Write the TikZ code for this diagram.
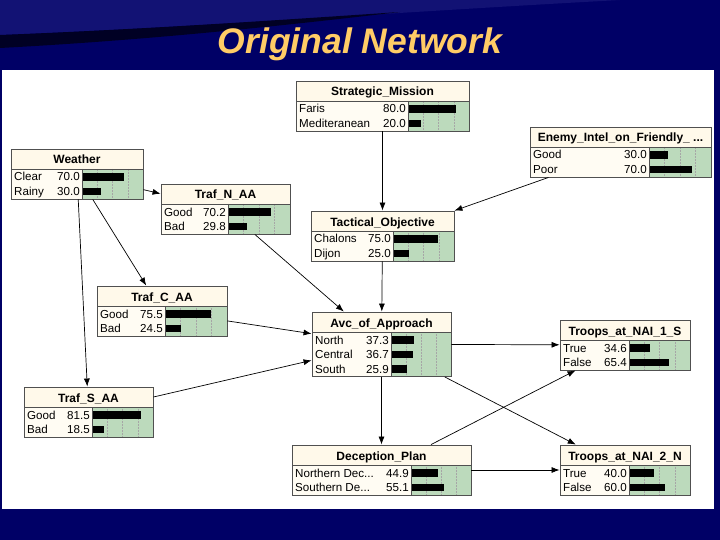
\documentclass[tikz,border=0pt]{standalone}
\usepackage{fontspec}
\setmainfont{Liberation Sans}
\usetikzlibrary{arrows.meta}

\definecolor{slidenavy}{RGB}{0,0,102}
\definecolor{swoopnavy}{RGB}{18,18,116}
\definecolor{titlegold}{RGB}{255,204,102}
\definecolor{headcream}{RGB}{255,249,234}
\definecolor{labelcream}{RGB}{255,252,243}
\definecolor{bargreen}{RGB}{188,218,188}
\definecolor{frameline}{RGB}{80,80,80}

\newcommand{\cutdots}{...}

\tikzset{
  bnframe/.style={draw=frameline,line width=0.9pt,inner sep=0pt,rectangle},
  bnhead/.style={fill=headcream},
  bnlabel/.style={fill=labelcream},
  bnbars/.style={fill=bargreen},
  bngrid/.style={draw=gray!70,densely dotted,line width=0.5pt},
  bnline/.style={draw=frameline,line width=0.9pt},
  bntitle/.style={font=\fontsize{12}{14}\selectfont\bfseries,inner sep=0pt},
  bnstate/.style={font=\fontsize{11.6}{14}\selectfont,inner sep=0pt},
  bnlink/.style={->,line width=0.7pt},
}

% one Netica node: name, left, top, right, divider, title, states, number of states
\newcommand{\bnbox}[8]{%
  \pgfmathsetmacro{\bnh}{#3+20}%
  \pgfmathsetmacro{\bnb}{#3+20+14.5*#8+1}%
  \fill[bnhead] (#2,#3) rectangle (#4,\bnh);
  \fill[bnlabel] (#2,\bnh) rectangle (#5,\bnb);
  \fill[bnbars] (#5,\bnh) rectangle (#4,\bnb);
  \foreach \q in {0.25,0.5,0.75}
    \draw[bngrid] ({#5+\q*(#4-#5)},\bnh) -- ({#5+\q*(#4-#5)},\bnb);
  \foreach \st/\pc [count=\i] in {#7} {
    \pgfmathsetmacro{\ry}{\bnh+12+14.5*(\i-1)}
    \node[bnstate,anchor=base west] at ({#2+3},\ry) {\st};
    \node[bnstate,anchor=base east] at ({#5-2},\ry) {\pc};
    \fill ({#5+1},{\ry-7.8}) rectangle ({#5+1+\pc/100*(#4-#5-2)},{\ry-0.2});
  }
  \draw[bnline] (#2,\bnh) -- (#4,\bnh) (#5,\bnh) -- (#5,\bnb);
  \node[bntitle,anchor=base] at ({(#2+#4)/2},{#3+15}) {#6};
  \node[bnframe,minimum width={(#4-#2)*1pt},minimum height={(\bnb-#3)*1pt}]
    (#1) at ({(#2+#4)/2},{(#3+\bnb)/2}) {};
}

\begin{document}
\begin{tikzpicture}[x=1pt,y=-1pt,>={Latex[length=8pt,width=6pt]}]
  \useasboundingbox (0,0) rectangle (720,540);
  % slide background
  \fill[slidenavy] (0,0) rectangle (720,540);
  \fill[swoopnavy] (0,0) -- (0,35) .. controls (180,28) and (400,12) .. (620,0) -- cycle;
  \fill[black!65!slidenavy] (0,35) .. controls (150,29) and (280,20) .. (400,12)
    .. controls (280,26) and (150,40) .. (0,48) -- cycle;
  \fill[white] (2,70) rectangle (714,509);
  \node[font=\fontsize{35.5}{40}\selectfont\bfseries\itshape,text=titlegold,anchor=base]
    (title) at (360,54) {Original Network};

  % nodes
  \bnbox{strat}{296}{81}{469}{408}{Strategic\_Mission}{Faris/80.0,Mediteranean/20.0}{2}
  \bnbox{enemy}{530}{127}{711}{649}{Enemy\_Intel\_on\_Friendly\_ \cutdots}{Good/30.0,Poor/70.0}{2}
  \bnbox{weather}{11}{149}{143}{82}{Weather}{Clear/70.0,Rainy/30.0}{2}
  \bnbox{trafN}{161}{184}{290}{228}{Traf\_N\_AA}{Good/70.2,Bad/29.8}{2}
  \bnbox{tact}{311}{211}{454}{393}{Tactical\_Objective}{Chalons/75.0,Dijon/25.0}{2}
  \bnbox{trafC}{97}{286}{227}{165}{Traf\_C\_AA}{Good/75.5,Bad/24.5}{2}
  \bnbox{avc}{312}{312}{451}{391}{Avc\_of\_Approach}{North/37.3,Central/36.7,South/25.9}{3}
  \bnbox{nai1}{560}{320}{690}{629}{Troops\_at\_NAI\_1\_S}{True/34.6,False/65.4}{2}
  \bnbox{trafS}{24}{387}{153}{92}{Traf\_S\_AA}{Good/81.5,Bad/18.5}{2}
  \bnbox{decep}{292}{445}{471}{411}{Deception\_Plan}{Northern Dec\cutdots/44.9,Southern De\cutdots/55.1}{2}
  \bnbox{nai2}{560}{445}{690}{629}{Troops\_at\_NAI\_2\_N}{True/40.0,False/60.0}{2}

  % links
  \draw[bnlink] (strat) -- (tact);
  \draw[bnlink] (enemy) -- (tact);
  \draw[bnlink] (weather) -- (trafN);
  \draw[bnlink] (weather) -- (trafC);
  \draw[bnlink] (weather) -- (trafS);
  \draw[bnlink] (trafN) -- (avc);
  \draw[bnlink] (tact) -- (avc);
  \draw[bnlink] (trafC) -- (avc);
  \draw[bnlink] (trafS) -- (avc);
  \draw[bnlink] (avc) -- (nai1);
  \draw[bnlink] (avc) -- (decep);
  \draw[bnlink] (avc) -- (nai2);
  \draw[bnlink] (decep) -- (nai1);
  \draw[bnlink] (decep) -- (nai2);
\end{tikzpicture}
\end{document}
